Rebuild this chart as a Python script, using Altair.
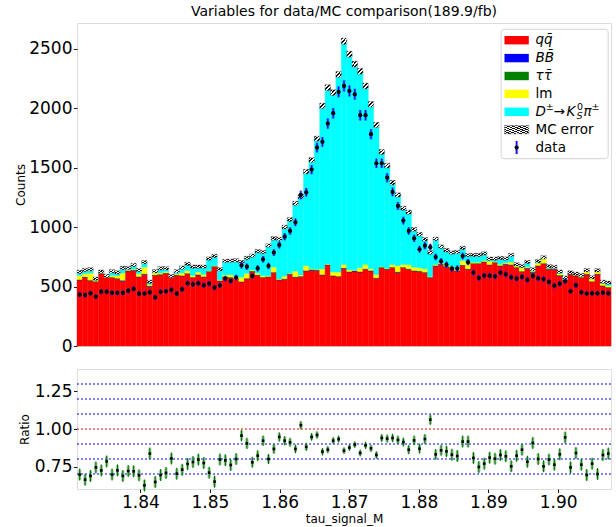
import altair as alt
import pandas as pd

# ---------------- data ----------------
x_min = 1.8309
x_max = 1.9076
n_bins = 99

qq = [555, 578, 550, 540, 608, 575, 575, 566, 545, 630,
      636, 580, 603, 500, 594, 600, 611, 578, 595, 589,
      608, 575, 597, 580, 625, 667, 547, 580, 575, 566,
      538, 566, 627, 595, 575, 580, 617, 555, 561, 603,
      578, 583, 631, 636, 636, 597, 681, 589, 583, 653,
      622, 625, 622, 645, 631, 569, 659, 645, 659, 617,
      659, 645, 631, 625, 617, 575, 673, 687, 667, 659,
      631, 678, 645, 692, 692, 706, 681, 701, 673, 687,
      681, 659, 625, 653, 617, 673, 692, 645, 645, 589,
      552, 603, 589, 575, 603, 540, 603, 505, 491]

bb = [2, 2, 2, 2, 2, 2, 2, 2, 6, 2,
      2, 2, 2, 2, 2, 2, 2, 2, 2, 2,
      2, 2, 2, 2, 2, 2, 2, 2, 2, 2,
      2, 2, 2, 2, 2, 2, 2, 2, 2, 2,
      2, 2, 2, 2, 2, 2, 2, 2, 2, 2,
      2, 8, 2, 2, 2, 2, 2, 2, 2, 2,
      2, 2, 2, 2, 2, 2, 2, 2, 2, 2,
      2, 2, 2, 2, 2, 2, 2, 2, 2, 2,
      2, 2, 2, 2, 2, 2, 2, 2, 2, 2,
      2, 2, 2, 2, 2, 2, 2, 2, 2]

tt = [2, 2, 2, 2, 2, 2, 2, 2, 2, 2,
      2, 2, 2, 5, 2, 2, 2, 2, 2, 2,
      2, 2, 2, 2, 2, 2, 2, 2, 2, 2,
      2, 2, 2, 2, 2, 2, 2, 2, 2, 2,
      2, 2, 2, 6, 2, 2, 2, 2, 2, 2,
      2, 2, 2, 2, 2, 2, 2, 2, 2, 6,
      2, 2, 2, 5, 2, 2, 2, 2, 2, 2,
      2, 2, 2, 2, 2, 2, 2, 2, 2, 2,
      2, 2, 2, 2, 6, 2, 2, 2, 2, 5,
      2, 2, 2, 2, 2, 2, 2, 2, 2]

lm = [34, 25, 58, 10, 5, 8, 14, 20, 60, 5,
      6, 23, 56, 10, 23, 10, 10, 5, 8, 21,
      22, 14, 20, 17, 5, 5, 5, 14, 20, 10,
      37, 40, 8, 14, 12, 6, 42, 5, 22, 5,
      47, 10, 40, 5, 5, 47, 5, 28, 34, 28,
      14, 5, 31, 36, 14, 28, 5, 5, 22, 50,
      22, 35, 28, 25, 28, 5, 8, 8, 10, 8,
      10, 36, 56, 8, 8, 8, 28, 5, 10, 8,
      20, 14, 28, 8, 5, 19, 37, 5, 5, 14,
      5, 5, 14, 14, 22, 21, 22, 19, 14]

sig = [29, 32, 33, 12, 8, 2, 35, 29, 43, 17,
       35, 32, 41, 23, 7, 39, 28, 2, 21, 45,
       56, 74, 46, 66, 101, 81, 89, 117, 118, 140,
       126, 130, 121, 184, 199, 255, 242, 336, 413, 451,
       571, 658, 791, 915, 1098, 1370, 1482, 1509, 1661, 1877,
       1813, 1729, 1653, 1501, 1383, 1257, 963, 862, 688, 595,
       473, 441, 318, 282, 248, 202, 215, 136, 124, 114,
       145, 107, 60, 61, 61, 60, 21, 24, 53, 36,
       60, 10, 16, 41, 15, 17, 12, 16, 11, 15,
       14, 6, 1, 4, 8, 13, 7, 12, 23]

mc_err = [14, 14, 14, 14, 14, 14, 14, 14, 14, 14,
          14, 14, 14, 14, 14, 14, 14, 14, 14, 14,
          14, 14, 14, 14, 14, 14, 14, 14, 14, 14,
          14, 14, 14, 14, 14, 14, 15, 15, 16, 16,
          17, 18, 19, 20, 21, 23, 24, 24, 25, 26,
          25, 25, 24, 24, 23, 22, 21, 20, 19, 18,
          17, 17, 16, 16, 15, 15, 15, 15, 15, 14,
          14, 14, 14, 14, 14, 14, 14, 14, 14, 14,
          14, 14, 14, 14, 14, 14, 14, 14, 14, 14,
          14, 14, 14, 14, 14, 14, 14, 14, 14]

data = [432, 428, 443, 416, 457, 457, 447, 447, 447, 465,
        480, 440, 441, 451, 408, 456, 460, 472, 440, 476,
        527, 519, 527, 510, 524, 491, 510, 566, 547, 575,
        678, 667, 589, 653, 729, 673, 785, 849, 919, 967,
        1040, 1270, 1292, 1483, 1668, 1716, 1870, 1957, 2136, 2186,
        2144, 2116, 1940, 1940, 1780, 1536, 1536, 1415, 1295, 1177,
        1054, 967, 905, 813, 843, 831, 748, 712, 683, 650,
        651, 756, 705, 617, 572, 592, 591, 586, 617, 603,
        577, 566, 581, 555, 589, 569, 563, 538, 507, 524,
        544, 460, 511, 451, 441, 443, 443, 448, 443]

data_err = [21, 21, 21, 20, 21, 21, 21, 21, 21, 22,
            22, 21, 21, 21, 20, 21, 21, 22, 21, 22,
            23, 23, 23, 23, 23, 22, 23, 24, 23, 24,
            26, 26, 24, 26, 27, 26, 28, 29, 30, 31,
            32, 36, 36, 39, 41, 41, 43, 44, 46, 47,
            46, 46, 44, 44, 42, 39, 39, 38, 36, 34,
            32, 31, 30, 29, 29, 29, 27, 27, 26, 25,
            26, 27, 27, 25, 24, 24, 24, 24, 25, 25,
            24, 24, 24, 24, 24, 24, 24, 23, 23, 23,
            23, 21, 23, 21, 21, 21, 21, 21, 21]

ratio = [0.696, 0.662, 0.687, 0.744, 0.724, 0.784, 0.696, 0.724, 0.687, 0.720,
         0.718, 0.691, 0.624, 0.836, 0.647, 0.693, 0.707, 0.804, 0.702, 0.729,
         0.767, 0.780, 0.796, 0.773, 0.709, 0.649, 0.796, 0.791, 0.760, 0.800,
         0.956, 0.904, 0.778, 0.822, 0.922, 0.800, 0.867, 0.947, 0.922, 0.911,
         0.867, 1.025, 0.881, 0.947, 0.960, 0.849, 0.862, 0.922, 0.933, 0.856,
         0.876, 0.896, 0.840, 0.891, 0.871, 0.827, 0.940, 0.936, 0.940, 0.927,
         0.913, 0.862, 0.924, 0.869, 0.933, 1.062, 0.831, 0.858, 0.851, 0.829,
         0.820, 0.916, 0.916, 0.807, 0.747, 0.769, 0.809, 0.802, 0.827, 0.818,
         0.751, 0.822, 0.862, 0.782, 0.907, 0.800, 0.751, 0.796, 0.762, 0.831,
         0.944, 0.744, 0.840, 0.762, 0.693, 0.769, 0.700, 0.827, 0.836]

ratio_err = [0.040, 0.040, 0.040, 0.040, 0.040, 0.040, 0.040, 0.040, 0.040, 0.040,
             0.040, 0.040, 0.040, 0.040, 0.040, 0.040, 0.040, 0.040, 0.040, 0.040,
             0.040, 0.040, 0.040, 0.040, 0.040, 0.040, 0.040, 0.040, 0.040, 0.040,
             0.038, 0.038, 0.037, 0.036, 0.035, 0.034, 0.033, 0.032, 0.031, 0.030,
             0.029, 0.028, 0.027, 0.026, 0.025, 0.025, 0.024, 0.024, 0.023, 0.023,
             0.023, 0.023, 0.024, 0.024, 0.024, 0.025, 0.026, 0.027, 0.028, 0.029,
             0.030, 0.031, 0.032, 0.033, 0.034, 0.035, 0.036, 0.037, 0.038, 0.040,
             0.040, 0.040, 0.040, 0.040, 0.040, 0.040, 0.040, 0.040, 0.040, 0.040,
             0.040, 0.040, 0.040, 0.040, 0.040, 0.040, 0.040, 0.040, 0.040, 0.040,
             0.040, 0.040, 0.040, 0.040, 0.040, 0.040, 0.040, 0.040, 0.040]

ratio_mc_err = [0.034, 0.034, 0.034, 0.034, 0.034, 0.034, 0.034, 0.034, 0.034, 0.034,
                0.034, 0.034, 0.034, 0.034, 0.034, 0.034, 0.034, 0.034, 0.034, 0.034,
                0.034, 0.034, 0.034, 0.034, 0.034, 0.034, 0.034, 0.034, 0.034, 0.034,
                0.033, 0.032, 0.031, 0.030, 0.029, 0.028, 0.027, 0.026, 0.025, 0.024,
                0.023, 0.022, 0.021, 0.020, 0.019, 0.018, 0.018, 0.017, 0.017, 0.016,
                0.016, 0.016, 0.017, 0.017, 0.018, 0.019, 0.020, 0.021, 0.022, 0.023,
                0.024, 0.025, 0.026, 0.027, 0.028, 0.029, 0.030, 0.031, 0.032, 0.034,
                0.034, 0.034, 0.034, 0.034, 0.034, 0.034, 0.034, 0.034, 0.034, 0.034,
                0.034, 0.034, 0.034, 0.034, 0.034, 0.034, 0.034, 0.034, 0.034, 0.034,
                0.034, 0.034, 0.034, 0.034, 0.034, 0.034, 0.034, 0.034, 0.034]

x_ticks = [1.84, 1.85, 1.86, 1.87, 1.88, 1.89, 1.90]
y_ticks_main = [0, 500, 1000, 1500, 2000, 2500]
y_ticks_ratio = [0.75, 1.00, 1.25]
blue_lines = [0.7, 0.8, 0.9, 1.1, 1.2, 1.3]
red_lines = [1.0]

comp_names = ["qq", "BB", "tautau", "lm", "signal"]
comp_colors = ["#ff0000", "#0000ff", "#008000", "#ffff00", "#00ffff"]
comp_values = [qq, bb, tt, lm, sig]

title_text = "Variables for data/MC comparison(189.9/fb)"

# ---------------- tables ----------------
edges = [x_min + (x_max - x_min) * i / n_bins for i in range(n_bins + 1)]
stack_rows, hatch_rows, point_rows, ratio_rows = [], [], [], []
for i in range(n_bins):
    base = 0.0
    for name, vals in zip(comp_names, comp_values):
        stack_rows.append({"x0": edges[i], "x1": edges[i + 1], "lo": base,
                           "hi": base + vals[i], "comp": name})
        base += vals[i]
    hatch_rows.append({"x0": edges[i], "x1": edges[i + 1],
                       "lo": base - mc_err[i], "hi": base + mc_err[i]})
    xc = 0.5 * (edges[i] + edges[i + 1])
    point_rows.append({"xc": xc, "v": data[i], "lo": data[i] - data_err[i],
                       "hi": data[i] + data_err[i]})
    ratio_rows.append({"xc": xc, "r": ratio[i],
                       "lo": ratio[i] - ratio_err[i], "hi": ratio[i] + ratio_err[i],
                       "mlo": ratio[i] - ratio_mc_err[i], "mhi": ratio[i] + ratio_mc_err[i]})
df_stack = pd.DataFrame(stack_rows)
df_hatch = pd.DataFrame(hatch_rows)
df_pts = pd.DataFrame(point_rows)
df_ratio = pd.DataFrame(ratio_rows)
df_blue = pd.DataFrame({"v": blue_lines})
df_red = pd.DataFrame({"v": red_lines})

FONT = "DejaVu Sans"
W = 534
H_MAIN = 323
H_RATIO = 120

xscale = alt.Scale(domain=[x_min, x_max], nice=False, zero=False)
yscale_main = alt.Scale(domain=[0, 2715], nice=False, zero=True)
yscale_ratio = alt.Scale(domain=[0.6, 1.4], nice=False, zero=False)
comp_scale = alt.Scale(domain=comp_names, range=comp_colors)

axis_common = dict(tickSize=3.5, tickColor="black", tickWidth=0.9, labelColor="black",
                   labelFontSize=17, labelFont=FONT, domain=False, grid=False,
                   labelPadding=1.5, labelFlush=False, labelOverlap=False,
                   titleFont=FONT, titleFontSize=12, titleFontWeight="normal",
                   titleColor="black")

main_y_axis = alt.Axis(values=y_ticks_main, format="d", title="Counts",
                       titleX=-56.5, titleY=H_MAIN / 2, titleAngle=-90,
                       titleAlign="center", titleBaseline="middle", **axis_common)
ratio_y_axis = alt.Axis(values=y_ticks_ratio, format=".2f", title="Ratio",
                        titleX=-53, titleY=H_RATIO / 2, titleAngle=-90,
                        titleAlign="center", titleBaseline="middle", **axis_common)
ratio_x_axis = alt.Axis(values=x_ticks, format=".2f", title="tau_signal_M",
                        titlePadding=3, **axis_common)


def stripes(n_str):
    st = []
    for k in range(n_str):
        a = k / n_str
        b = a + 0.5 / n_str
        c = (k + 1) / n_str
        st += [{"offset": a, "color": "#111111"}, {"offset": b, "color": "#111111"},
               {"offset": b, "color": "#ffffff"}, {"offset": c, "color": "#ffffff"}]
    return {"gradient": "linear", "stops": st, "x1": 0, "y1": 0, "x2": 1, "y2": 1}


hatch_fill = stripes(3)
hatch_fill_legend = stripes(9)

X_main = alt.X("x0:Q", scale=xscale, axis=None)

stack = alt.Chart(df_stack).mark_rect(strokeWidth=0.4).encode(
    x=X_main, x2=alt.X2("x1"),
    y=alt.Y("lo:Q", scale=yscale_main, axis=main_y_axis), y2=alt.Y2("hi"),
    color=alt.Color("comp:N", scale=comp_scale, legend=None),
    stroke=alt.Stroke("comp:N", scale=comp_scale, legend=None),
)

hatch = alt.Chart(df_hatch).mark_rect(fill=hatch_fill, stroke="#333333", strokeWidth=0.3).encode(
    x=X_main, x2=alt.X2("x1"),
    y=alt.Y("lo:Q", scale=yscale_main, axis=main_y_axis), y2=alt.Y2("hi"),
)

err_wide = alt.Chart(df_pts).mark_rule(color="#3b3bff", strokeWidth=3, opacity=0.55).encode(
    x=alt.X("xc:Q", scale=xscale, axis=None),
    y=alt.Y("lo:Q", scale=yscale_main, axis=main_y_axis), y2=alt.Y2("hi"),
)
err_core = alt.Chart(df_pts).mark_rule(color="#0000ff", strokeWidth=1.1).encode(
    x=alt.X("xc:Q", scale=xscale, axis=None),
    y=alt.Y("lo:Q", scale=yscale_main, axis=main_y_axis), y2=alt.Y2("hi"),
)
dots = alt.Chart(df_pts).mark_point(filled=True, shape="circle", size=18, color="black",
                                    opacity=1).encode(
    x=alt.X("xc:Q", scale=xscale, axis=None),
    y=alt.Y("v:Q", scale=yscale_main, axis=main_y_axis),
)

# ---------------- legend (drawn inside the plot area, pixel coords) ----------------
LEG_X0, LEG_X1, LEG_Y0, LEG_Y1 = 424.2, 531.2, 6.3, 135.7
ROW0, ROW_STEP = 17.2, 17.9
PATCH_X0, PATCH_X1, LABEL_X = 427.5, 451.8, 458.5

one = pd.DataFrame({"a": [0]})
leg_box = alt.Chart(one).mark_rect(fill="white", stroke="#cccccc", strokeWidth=1,
                                   cornerRadius=3, opacity=0.85).encode(
    x=alt.value(LEG_X0), x2=alt.value(LEG_X1), y=alt.value(LEG_Y0), y2=alt.value(LEG_Y1))

patch_rows = []
for k, name in enumerate(comp_names):
    cy = ROW0 + ROW_STEP * k
    patch_rows.append({"comp": name, "t": cy - 4.2, "b": cy + 4.2})
leg_patches = alt.Chart(pd.DataFrame(patch_rows)).mark_rect().encode(
    x=alt.value(PATCH_X0), x2=alt.value(PATCH_X1),
    y=alt.Y("t:Q", scale=None), y2=alt.Y2("b"),
    color=alt.Color("comp:N", scale=comp_scale, legend=None))

cy_err = ROW0 + ROW_STEP * 5
leg_hatch = alt.Chart(one).mark_rect(fill=hatch_fill_legend, stroke="#333333",
                                     strokeWidth=0.3).encode(
    x=alt.value(PATCH_X0), x2=alt.value(PATCH_X1),
    y=alt.value(cy_err - 4.2), y2=alt.value(cy_err + 4.2))

cy_dat = ROW0 + ROW_STEP * 6
pcx = 0.5 * (PATCH_X0 + PATCH_X1)
leg_err_w = alt.Chart(one).mark_rule(color="#3b3bff", strokeWidth=3, opacity=0.55).encode(
    x=alt.value(pcx), y=alt.value(cy_dat - 6.5), y2=alt.value(cy_dat + 6.5))
leg_err_c = alt.Chart(one).mark_rule(color="#0000ff", strokeWidth=1.1).encode(
    x=alt.value(pcx), y=alt.value(cy_dat - 6.5), y2=alt.value(cy_dat + 6.5))
leg_dot = alt.Chart(one).mark_point(filled=True, shape="circle", size=18, color="black",
                                    opacity=1).encode(x=alt.value(pcx), y=alt.value(cy_dat))

ital_rows = [{"lab": "q" + "q\u0304", "y": ROW0},
             {"lab": "B" + "B\u0304", "y": ROW0 + ROW_STEP},
             {"lab": "\u03c4" + "\u03c4\u0304", "y": ROW0 + ROW_STEP * 2}]
norm_rows = [{"lab": "lm", "y": ROW0 + ROW_STEP * 3},
             {"lab": "MC error", "y": ROW0 + ROW_STEP * 5},
             {"lab": "data", "y": ROW0 + ROW_STEP * 6}]
leg_ital = alt.Chart(pd.DataFrame(ital_rows)).mark_text(
    align="left", baseline="middle", fontSize=13.5, font=FONT, fontStyle="italic",
    color="black").encode(x=alt.value(LABEL_X), y=alt.Y("y:Q", scale=None), text="lab:N")
leg_norm = alt.Chart(pd.DataFrame(norm_rows)).mark_text(
    align="left", baseline="middle", fontSize=13.5, font=FONT,
    color="black").encode(x=alt.value(LABEL_X), y=alt.Y("y:Q", scale=None), text="lab:N")

cy_sig = ROW0 + ROW_STEP * 4
sig_pieces = [
    {"s": "D", "x": 458.5, "y": cy_sig, "fs": 13.5, "st": "italic"},
    {"s": "\u00b1", "x": 468.8, "y": cy_sig - 4.5, "fs": 9.5, "st": "normal"},
    {"s": "\u2192", "x": 476.5, "y": cy_sig, "fs": 13.5, "st": "normal"},
    {"s": "K", "x": 489.5, "y": cy_sig, "fs": 13.5, "st": "italic"},
    {"s": "0", "x": 500.0, "y": cy_sig - 5.0, "fs": 9.5, "st": "normal"},
    {"s": "S", "x": 499.5, "y": cy_sig + 4.5, "fs": 9.5, "st": "italic"},
    {"s": "\u03c0", "x": 506.5, "y": cy_sig, "fs": 13.5, "st": "italic"},
    {"s": "\u00b1", "x": 514.5, "y": cy_sig - 4.5, "fs": 9.5, "st": "normal"},
]
df_sig = pd.DataFrame(sig_pieces)
leg_sig_big_i = alt.Chart(df_sig[(df_sig.fs > 10) & (df_sig.st == "italic")]).mark_text(
    align="left", baseline="middle", fontSize=13.5, font=FONT, fontStyle="italic", color="black"
).encode(x=alt.X("x:Q", scale=None), y=alt.Y("y:Q", scale=None), text="s:N")
leg_sig_big_n = alt.Chart(df_sig[(df_sig.fs > 10) & (df_sig.st == "normal")]).mark_text(
    align="left", baseline="middle", fontSize=13.5, font=FONT, color="black"
).encode(x=alt.X("x:Q", scale=None), y=alt.Y("y:Q", scale=None), text="s:N")
leg_sig_small_n = alt.Chart(df_sig[(df_sig.fs < 10) & (df_sig.st == "normal")]).mark_text(
    align="left", baseline="middle", fontSize=9.5, font=FONT, color="black"
).encode(x=alt.X("x:Q", scale=None), y=alt.Y("y:Q", scale=None), text="s:N")
leg_sig_small_i = alt.Chart(df_sig[(df_sig.fs < 10) & (df_sig.st == "italic")]).mark_text(
    align="left", baseline="middle", fontSize=9.5, font=FONT, fontStyle="italic", color="black"
).encode(x=alt.X("x:Q", scale=None), y=alt.Y("y:Q", scale=None), text="s:N")

main = alt.layer(
    stack, hatch, err_wide, err_core, dots,
    leg_box, leg_patches, leg_hatch, leg_err_w, leg_err_c, leg_dot,
    leg_ital, leg_norm, leg_sig_big_i, leg_sig_big_n, leg_sig_small_n, leg_sig_small_i,
).properties(
    width=W, height=H_MAIN,
    title=alt.TitleParams(title_text, font=FONT, fontSize=14, fontWeight="normal",
                          color="black", anchor="middle", frame="group", offset=-7,
                          baseline="alphabetic"),
)

# ---------------- ratio panel ----------------
rx = alt.X("xc:Q", scale=xscale, axis=ratio_x_axis)
hl_blue = alt.Chart(df_blue).mark_rule(strokeDash=[2, 2], strokeWidth=1, color="#0000ff").encode(
    y=alt.Y("v:Q", scale=yscale_ratio, axis=ratio_y_axis))
hl_red = alt.Chart(df_red).mark_rule(strokeDash=[2, 2], strokeWidth=1, color="#ff0000").encode(
    y=alt.Y("v:Q", scale=yscale_ratio, axis=ratio_y_axis))
r_mc = alt.Chart(df_ratio).mark_rule(color="#4cb04c", strokeWidth=3.2, opacity=0.55).encode(
    x=rx, y=alt.Y("mlo:Q", scale=yscale_ratio, axis=ratio_y_axis), y2=alt.Y2("mhi"))
r_dat = alt.Chart(df_ratio).mark_rule(color="#007000", strokeWidth=1.1).encode(
    x=rx, y=alt.Y("lo:Q", scale=yscale_ratio, axis=ratio_y_axis), y2=alt.Y2("hi"))
r_pts = alt.Chart(df_ratio).mark_point(filled=True, shape="square", size=7, color="black",
                                       opacity=1).encode(
    x=rx, y=alt.Y("r:Q", scale=yscale_ratio, axis=ratio_y_axis))

ratio_chart = alt.layer(hl_blue, hl_red, r_mc, r_dat, r_pts).properties(width=W, height=H_RATIO)

chart = alt.vconcat(main, ratio_chart, spacing=13).resolve_scale(
    color="independent", stroke="independent"
).properties(
    padding={"left": 14, "top": 4, "right": 0, "bottom": 6},
    background="white",
).configure_view(stroke="black", strokeWidth=1).configure(font=FONT)

chart.save("out.html", embed_options={"renderer": "svg", "actions": False})
